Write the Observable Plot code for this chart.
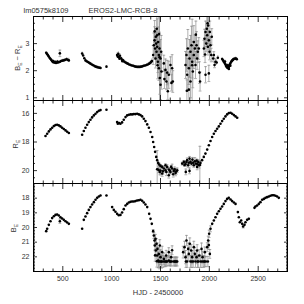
<!DOCTYPE html>
<html><head><meta charset="utf-8">
<script src="https://cdn.jsdelivr.net/npm/d3@7"></script>
<script src="https://cdn.jsdelivr.net/npm/@observablehq/plot@0.6"></script>
<style>
html,body{margin:0;padding:0;background:#fff}
#chart{position:relative;width:304px;height:304px;overflow:hidden;background:#fff}
#chart svg{position:absolute;left:0}
</style>
</head><body><div id="chart"></div>
<script>
// ---- tick labels / titles ----
const titleLeft = "lm0575k8109";
const titleRight = "EROS2-LMC-RCB-8";
const xTitle = "HJD - 2450000";
const xMajor = [500, 1000, 1500, 2000, 2500];
const xTickLabels = ["500", "1000", "1500", "2000", "2500"];
const colorTicks = [1, 2, 3];
const redTicks = [16, 18, 20];
const blueTicks = [18, 19, 20, 21, 22];
const yLabelParts = [["B", "E", " \u2212 R", "E"], ["R", "E"], ["B", "E"]];

// ---- data: [HJD-2450000, value, error] ----
const bMinusR = [
[330,2.66,0.04],[338,2.62,0.04],[347,2.58,0.04],[355,2.53,0.04],[364,2.48,0.04],[372,2.44,0.04],[381,2.40,0.04],[390,2.36,0.04],[398,2.32,0.04],[400,2.36,0.04],[406,2.31,0.04],[415,2.30,0.04],[420,2.33,0.04],[425,2.29,0.04],[435,2.29,0.04],[445,2.34,0.04],[447,2.30,0.04],[459,2.31,0.04],[470,2.64,0.12],[471,2.33,0.04],[483,2.36,0.04],[496,2.37,0.05],[510,2.38,0.05],[524,2.40,0.05],[538,2.42,0.06],[550,2.40,0.06],[562,2.38,0.08],
[698,2.63,0.06],[708,2.56,0.05],[720,2.46,0.04],[732,2.38,0.04],[744,2.35,0.04],[756,2.32,0.04],[770,2.29,0.04],[783,2.26,0.04],[797,2.23,0.04],[811,2.20,0.04],[825,2.17,0.04],[838,2.15,0.04],[852,2.13,0.04],[865,2.12,0.04],[876,2.11,0.04],[886,2.10,0.04],[947,2.15,0.04],
[1056,2.58,0.08],[1062,2.52,0.06],[1068,2.62,0.08],[1073,2.50,0.06],[1080,2.44,0.06],[1085,2.55,0.08],[1097,2.46,0.05],[1105,2.40,0.05],[1110,2.35,0.05],[1118,2.38,0.05],[1130,2.33,0.05],[1142,2.30,0.05],[1153,2.28,0.04],[1165,2.26,0.04],[1179,2.23,0.04],[1193,2.21,0.04],[1206,2.19,0.04],[1220,2.18,0.04],[1233,2.16,0.04],[1247,2.15,0.04],[1261,2.14,0.04],[1275,2.14,0.04],[1289,2.14,0.04],[1302,2.15,0.04],[1316,2.16,0.04],[1329,2.18,0.04],[1343,2.19,0.04],[1357,2.21,0.05],[1370,2.23,0.05],[1384,2.26,0.05],[1396,2.29,0.06],[1404,2.32,0.06],[1412,2.36,0.08],
[1425,2.58,0.35],[1432,2.94,0.45],[1439,3.12,0.5],[1440,3.45,0.4],[1445,2.82,0.4],[1449,2.45,0.35],[1452,3.25,0.3],[1456,3.00,0.5],[1459,2.70,0.45],[1462,3.55,0.5],[1466,3.31,0.6],[1466,2.88,0.5],[1470,2.20,0.5],[1473,2.33,0.4],[1476,3.06,0.55],[1483,2.58,0.5],[1483,2.09,0.45],[1486,3.35,0.6],[1490,2.82,0.6],[1490,2.50,1.9],[1493,1.73,0.6],[1500,2.45,0.7],[1500,1.48,0.55],[1507,2.70,0.6],[1510,1.97,0.65],
[1534,2.27,0.3],[1540,1.69,0.35],[1551,2.03,0.4],[1561,1.60,0.3],[1568,1.93,0.45],[1575,1.24,0.3],[1585,1.85,0.5],[1602,2.21,0.3],[1612,1.55,0.3],[1619,2.09,0.5],[1626,1.60,0.4],
[1756,2.21,0.5],[1766,2.58,0.6],[1770,1.26,0.4],[1773,1.85,0.6],[1780,2.82,0.7],[1790,2.09,0.6],[1790,1.30,0.5],[1797,2.45,0.7],[1807,1.60,0.6],[1807,2.70,0.6],[1817,2.94,0.7],[1824,2.33,0.6],[1824,2.20,1.7],[1831,1.97,0.6],[1841,3.06,0.6],[1841,2.58,0.5],[1852,2.82,0.5],[1858,2.21,0.5],[1862,3.33,0.5],[1869,2.94,0.5],[1875,2.45,0.4],[1882,2.70,0.4],[1892,2.82,0.4],[1899,1.93,0.4],[1905,1.60,0.35],
[1944,2.82,0.3],[1950,3.18,0.35],[1956,2.60,0.3],[1961,3.43,0.4],[1961,1.85,0.3],[1968,3.00,0.3],[1974,3.55,0.5],[1978,3.31,0.4],[1982,3.75,0.4],[1985,2.88,0.3],[1988,3.67,0.5],[1995,3.12,0.35],[1995,1.90,0.3],[2002,2.70,0.3],[2005,3.43,0.4],[2012,2.94,0.3],[2019,2.58,0.25],[2025,3.25,0.3],
[2039,2.45,0.1],[2046,2.58,0.12],[2053,2.21,0.1],[2063,2.33,0.1],[2075,2.30,0.08],[2087,2.48,0.08],
[2131,2.43,0.05],[2140,2.38,0.05],[2148,2.33,0.05],[2156,2.28,0.05],[2160,2.34,0.05],[2165,2.24,0.05],[2170,2.18,0.05],[2176,2.15,0.05],[2183,2.12,0.05],[2185,2.20,0.05],[2189,2.10,0.05],[2195,2.13,0.05],[2200,2.15,0.05],[2200,2.06,0.05],[2205,2.20,0.05],[2210,2.24,0.05],[2215,2.18,0.05],[2217,2.28,0.05],[2224,2.33,0.05],[2230,2.36,0.05],[2237,2.39,0.05],[2244,2.41,0.05],[2251,2.43,0.05],[2260,2.44,0.05],[2268,2.45,0.05],[2275,2.44,0.05],[2281,2.42,0.05]
];

const redMag = [
[323,17.58,0.02],[340,17.42,0.02],[357,17.26,0.02],[374,17.12,0.02],[391,17.00,0.02],[408,16.89,0.02],[425,16.82,0.02],[442,16.79,0.02],[459,16.84,0.02],[476,16.91,0.02],[493,17.00,0.02],[510,17.09,0.02],[528,17.19,0.02],[545,17.28,0.02],[562,17.37,0.02],
[698,17.49,0.02],[715,17.23,0.02],[732,17.00,0.02],[749,16.79,0.02],[766,16.61,0.02],[783,16.45,0.02],[800,16.28,0.02],[818,16.14,0.02],[835,16.03,0.02],[852,15.91,0.02],[869,15.82,0.02],[886,15.77,0.02],[947,15.75,0.02],
[1056,16.61,0.02],[1063,16.72,0.02],[1077,16.68,0.02],[1090,16.72,0.02],[1107,16.63,0.02],[1124,16.45,0.02],[1142,16.26,0.02],[1159,16.14,0.02],[1176,16.10,0.02],[1193,16.07,0.02],[1210,16.07,0.02],[1227,16.05,0.02],[1244,16.05,0.02],[1261,16.03,0.02],[1278,16.07,0.02],[1295,16.12,0.02],[1312,16.21,0.02],[1329,16.38,0.02],[1346,16.54,0.02],[1364,16.77,0.02],[1381,17.00,0.02],[1398,17.30,0.02],[1415,17.65,0.02],[1425,18.00,0.03],[1435,18.35,0.03],[1445,18.69,0.04],[1456,19.04,0.05],[1466,19.27,0.06],[1476,19.46,0.08],[1486,19.58,0.1],[1500,19.67,0.1],[1517,19.74,0.1],
[1466,19.90,1.3],[1480,19.95,0.2],[1493,20.09,0.2],[1500,20.00,0.3],[1517,20.20,0.2],[1525,20.05,0.2],[1534,19.85,0.15],[1551,19.97,0.15],[1551,19.62,0.1],[1560,20.10,0.25],[1568,19.74,0.15],[1585,19.92,0.15],[1585,20.32,0.2],[1595,20.00,0.2],[1602,20.09,0.15],[1609,19.74,0.1],[1619,19.85,0.3],[1630,20.25,0.2],[1636,20.02,0.15],[1645,19.90,0.15],[1654,20.16,0.2],[1662,20.05,0.2],[1671,19.97,0.15],
[1722,19.51,0.1],[1739,19.39,0.1],[1745,19.60,0.1],[1756,19.55,0.15],[1759,20.09,0.2],[1765,19.40,0.1],[1773,19.27,0.15],[1783,19.62,0.15],[1790,19.45,0.1],[1797,19.16,0.15],[1797,20.02,0.2],[1807,19.39,0.15],[1817,19.51,0.15],[1827,19.23,0.15],[1835,19.45,0.1],[1841,19.62,0.15],[1851,19.34,0.25],[1862,19.51,0.15],[1870,19.30,0.1],[1875,19.74,0.2],[1880,19.55,0.1],[1886,19.39,0.15],[1896,19.62,0.2],[1903,19.60,1.3],[1909,19.46,0.15],
[1926,19.27,0.05],[1943,19.04,0.04],[1960,18.81,0.03],[1978,18.53,0.03],[1995,18.23,0.02],[2012,17.93,0.02],[2029,17.65,0.02],[2046,17.42,0.02],[2063,17.23,0.02],[2080,17.07,0.02],[2097,16.91,0.02],[2114,16.72,0.02],[2131,16.54,0.02],[2148,16.38,0.02],[2165,16.21,0.02],[2182,16.07,0.02],[2199,15.98,0.02],[2217,15.96,0.02],[2233,16.03,0.02],[2251,16.12,0.02],[2268,16.21,0.02],[2285,16.31,0.02]
];

const blueMag = [
[330,20.25,0.03],[340,20.09,0.03],[357,19.82,0.03],[374,19.57,0.03],[391,19.36,0.03],[408,19.23,0.03],[425,19.14,0.03],[442,19.11,0.03],[459,19.18,0.03],[470,19.57,0.15],[476,19.30,0.03],[493,19.39,0.03],[510,19.48,0.03],[528,19.57,0.03],[545,19.66,0.03],[562,19.75,0.03],
[698,20.09,0.05],[715,19.48,0.03],[732,19.25,0.03],[749,19.02,0.03],[766,18.80,0.03],[783,18.61,0.03],[800,18.43,0.03],[818,18.27,0.03],[835,18.11,0.03],[852,17.98,0.03],[869,17.89,0.03],[886,17.82,0.03],[947,17.82,0.03],
[1005,18.61,0.03],[1022,18.80,0.03],[1039,18.93,0.03],[1056,19.07,0.03],[1073,19.16,0.03],[1090,19.14,0.03],[1107,18.98,0.03],[1124,18.75,0.03],[1142,18.50,0.03],[1159,18.39,0.03],[1176,18.30,0.03],[1193,18.25,0.03],[1210,18.23,0.03],[1227,18.23,0.03],[1244,18.20,0.03],[1261,18.16,0.03],[1278,18.14,0.03],[1295,18.11,0.03],[1312,18.18,0.03],[1329,18.30,0.03],[1346,18.43,0.03],[1364,18.61,0.03],[1384,19.07,0.04],[1398,19.41,0.05],[1411,19.75,0.08],[1425,20.25,0.1],
[1432,20.55,0.2],[1439,20.89,0.3],[1442,21.23,0.35],[1445,21.90,0.4],[1449,20.77,0.3],[1452,21.57,0.4],[1459,21.11,0.35],[1462,22.30,0.4],[1466,21.91,0.5],[1469,21.46,0.4],[1476,22.25,0.5],[1480,22.32,0.4],[1483,21.80,0.45],[1490,22.32,0.5],[1493,21.23,0.4],[1500,22.02,0.5],[1505,22.32,0.4],[1510,22.32,0.45],[1517,21.68,0.4],[1524,22.32,0.4],[1534,22.14,0.4],[1540,22.32,0.35],[1551,22.32,0.35],[1558,21.91,0.35],[1560,22.32,0.3],[1568,22.32,0.3],[1585,22.25,0.35],[1585,21.68,0.3],[1595,22.32,0.3],[1602,22.32,0.3],[1609,22.02,0.3],[1615,22.32,0.3],[1619,21.55,0.3],[1636,22.32,0.3],[1645,22.32,0.3],[1654,22.32,0.3],[1662,22.32,0.3],[1671,22.32,0.3],
[1732,21.68,0.4],[1746,21.34,0.4],[1756,22.02,0.45],[1760,22.32,0.4],[1766,20.89,0.35],[1773,22.32,0.4],[1783,21.46,0.4],[1790,21.80,0.45],[1800,21.11,0.4],[1807,22.32,0.4],[1814,21.57,0.4],[1820,22.32,0.4],[1824,22.02,0.45],[1834,22.32,0.4],[1841,21.34,0.4],[1851,21.80,0.45],[1858,22.32,0.4],[1869,22.02,0.45],[1875,21.57,0.4],[1880,22.32,0.4],[1886,22.32,0.4],[1896,21.91,0.4],[1909,22.32,0.4],[1920,21.46,0.4],[1925,22.32,0.4],[1930,22.02,0.4],[1943,22.32,0.4],[1950,22.32,0.35],[1954,21.68,0.35],[1964,22.32,0.35],[1978,21.34,0.3],[1985,22.32,0.35],[1988,20.89,0.3],[1995,21.20,0.3],[1998,20.43,0.25],[2005,21.80,0.3],[2012,20.09,0.2],
[2029,19.75,0.08],[2046,19.52,0.06],[2063,19.30,0.05],[2080,19.07,0.04],[2097,18.89,0.03],[2114,18.73,0.03],[2131,18.57,0.03],[2148,18.39,0.03],[2165,18.20,0.03],[2182,18.05,0.03],[2199,17.98,0.03],[2217,18.09,0.03],[2233,18.20,0.03],[2251,18.30,0.03],[2268,18.39,0.03],
[2292,18.95,0.05],[2302,19.30,0.06],[2312,19.64,0.08],[2326,19.52,0.06],[2336,19.75,0.08],[2346,19.93,0.1],[2360,19.82,0.08],[2370,19.64,0.06],[2387,19.48,0.05],[2404,19.41,0.05],
[2462,18.66,0.03],[2472,18.57,0.03],[2489,18.50,0.03],[2506,18.39,0.03],[2523,18.27,0.03],[2541,18.11,0.03],[2558,18.05,0.03],[2575,17.98,0.03],[2592,17.93,0.03],[2609,17.89,0.03],[2626,17.84,0.03],[2643,17.80,0.03],[2660,17.80,0.03],[2677,17.84,0.03],[2694,17.89,0.03],[2711,17.98,0.03]
];

// ---- drawing ----
const FONT = "'Liberation Sans', Arial, Helvetica, sans-serif";
const xDomain = [200, 2800];
const xMinor = d3.range(300, 2800, 100).filter(v => !xMajor.includes(v));
const dash = {draw(ctx, size) { const w = Math.sqrt(size / Math.PI); ctx.moveTo(-w, 0); ctx.lineTo(w, 0); }};

function panel({data, yDomain, reverse, yTicks, yMajor, yMinor, top, height, marginTop, marginBottom, xLabels}) {
  const rows = data.map(([t, v, e]) => ({t, v, e, lo: v - e, hi: v + e}));
  const big = rows.filter(d => d.e >= 0.1);
  const tickStyle = {stroke: "black", fill: "none", label: null, strokeWidth: 0.8};
  const marks = [
    Plot.ruleX(rows, {x: "t", y1: "lo", y2: "hi", stroke: "#8c8c8c", strokeWidth: 0.7, clip: true}),
    Plot.dot(big, {x: "t", y: "lo", r: 1.4, symbol: dash, stroke: "#8c8c8c", strokeWidth: 0.7, fill: "none", clip: true}),
    Plot.dot(big, {x: "t", y: "hi", r: 1.4, symbol: dash, stroke: "#8c8c8c", strokeWidth: 0.7, fill: "none", clip: true}),
    Plot.dot(rows, {x: "t", y: "v", r: 1.3, fill: "black", stroke: "none", clip: true}),
    Plot.axisX(xMajor, {anchor: "bottom", tickSize: -5, ...tickStyle}),
    Plot.axisX(xMinor, {anchor: "bottom", tickSize: -2.5, ...tickStyle}),
    Plot.axisX(xMajor, {anchor: "top", tickSize: -5, ...tickStyle}),
    Plot.axisX(xMinor, {anchor: "top", tickSize: -2.5, ...tickStyle}),
    Plot.axisY(yMajor, {anchor: "left", tickSize: -4, ...tickStyle}),
    Plot.axisY(yMinor, {anchor: "left", tickSize: -2, ...tickStyle}),
    Plot.axisY(yMajor, {anchor: "right", tickSize: -4, ...tickStyle}),
    Plot.axisY(yMinor, {anchor: "right", tickSize: -2, ...tickStyle}),
    Plot.axisY(yTicks, {anchor: "left", tickSize: 0, tickPadding: 4, label: null, fill: "#333", tickFormat: d => String(d)}),
    Plot.frame({stroke: "black", strokeWidth: 1})
  ];
  if (xLabels) marks.push(Plot.axisX(xMajor, {anchor: "bottom", tickSize: 0, tickPadding: 5, label: null, fill: "#333",
    tickFormat: d => xTickLabels[xMajor.indexOf(d)]}));
  const svg = Plot.plot({
    width: 304, height, marginLeft: 33, marginRight: 17, marginTop, marginBottom,
    style: {fontFamily: FONT, fontSize: "7px", background: "none", overflow: "visible"},
    x: {domain: xDomain},
    y: {domain: yDomain, reverse},
    marks
  });
  svg.style.position = "absolute";
  svg.style.top = top + "px";
  svg.style.overflow = "visible";
  return svg;
}

function yLabel(svg, parts, x, y) {
  const t = d3.select(svg).append("text")
    .attr("transform", `translate(${x},${y}) rotate(-90)`)
    .attr("text-anchor", "middle").attr("fill", "#333")
    .style("font-family", FONT).style("font-size", "7.5px");
  parts.forEach((p, i) => {
    const s = t.append("tspan").text(p);
    if (i % 2 === 1) s.attr("dy", 1.8).style("font-size", "5px");
    else if (i > 0) s.attr("dy", -1.8);
  });
}

const chart = document.getElementById("chart");
const p1 = panel({data: bMinusR, yDomain: [0.9, 4.0], reverse: false, yTicks: colorTicks,
  yMajor: [1, 2, 3, 4], yMinor: d3.range(1, 4, 0.25).filter(v => v % 1 !== 0),
  top: 0, height: 100, marginTop: 16, marginBottom: 0});
const p2 = panel({data: redMag, yDomain: [15.1, 20.9], reverse: true, yTicks: redTicks,
  yMajor: redTicks, yMinor: [15.5, 16.5, 17, 17.5, 18.5, 19, 19.5, 20.5],
  top: 100, height: 83, marginTop: 0, marginBottom: 0});
const p3 = panel({data: blueMag, yDomain: [17, 23], reverse: true, yTicks: blueTicks,
  yMajor: blueTicks, yMinor: d3.range(171, 230, 1).map(v => v / 10).filter(v => v % 1 !== 0),
  top: 183, height: 121, marginTop: 0, marginBottom: 33, xLabels: true});
yLabel(p1, yLabelParts[0], 20, 58);
yLabel(p2, yLabelParts[1], 18, 44);
yLabel(p3, yLabelParts[2], 16, 45);
d3.select(p1).append("text").attr("x", 46).attr("y", 12.5).attr("fill", "#333")
  .style("font-family", FONT).style("font-size", "7.5px").text(titleLeft);
d3.select(p1).append("text").attr("x", 123).attr("y", 12.5).attr("fill", "#333")
  .style("font-family", FONT).style("font-size", "7.5px").text(titleRight);
d3.select(p3).append("text").attr("x", 158).attr("y", 112).attr("text-anchor", "middle").attr("fill", "#333")
  .style("font-family", FONT).style("font-size", "7.5px").text(xTitle);
chart.append(p1, p2, p3);
</script>
</body></html>
